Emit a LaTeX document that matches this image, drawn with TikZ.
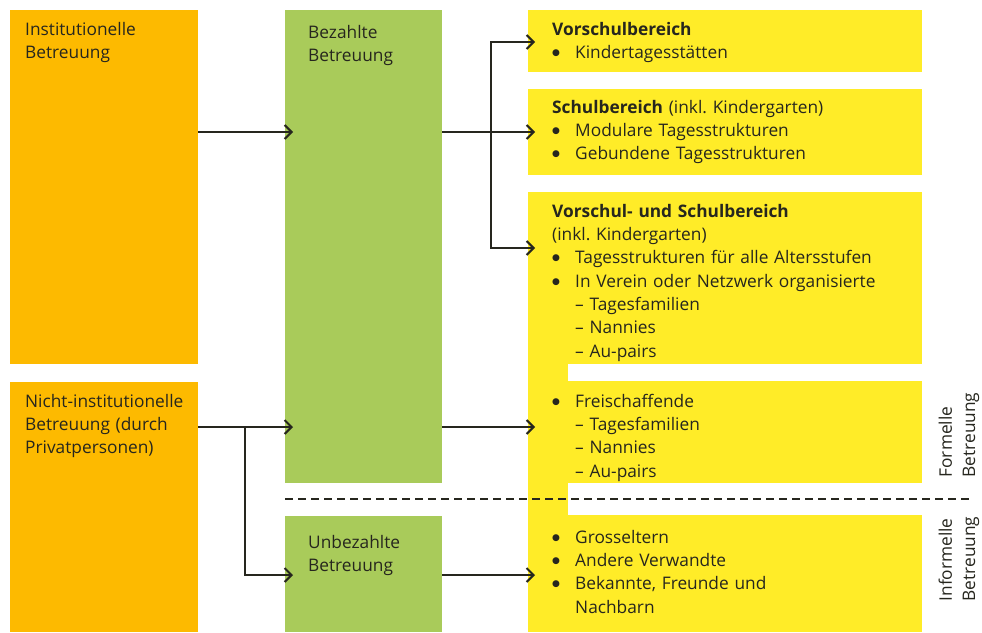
\documentclass[tikz,border=0pt]{standalone}
\usepackage{fontspec}
\setmainfont{Open Sans}
\newfontfamily\symfont{DejaVu Sans}
\usetikzlibrary{arrows.meta}
\definecolor{borange}{RGB}{253,186,0}
\definecolor{bgreen}{RGB}{169,203,90}
\definecolor{byellow}{RGB}{255,236,40}
\definecolor{ink}{RGB}{38,38,30}
\begin{document}
\frenchspacing
\begin{tikzpicture}[x=1pt,y=-1pt,
  boxbase/.style={draw=none, inner sep=0pt, outer sep=0pt, anchor=north west},
  obox/.style={boxbase, fill=borange},
  gbox/.style={boxbase, fill=bgreen},
  ybox/.style={boxbase, fill=byellow},
  txt/.style={anchor=north west, inner sep=0pt, align=left, text width=390pt,
    font=\fontsize{17.3}{23.3}\selectfont, text=ink},
  vtxt/.style={anchor=center, inner sep=0pt, align=left, rotate=90,
    font=\fontsize{17.3}{23.3}\selectfont, text=ink},
  arr/.style={draw=ink, line width=2pt,
    -{Straight Barb[length=7pt,width=14pt]}},
  sepline/.style={draw=ink, line width=2.4pt, dash pattern=on 8pt off 5pt}
]
\useasboundingbox[fill=white] (0,0) rectangle (982,632);
\newcommand{\bul}{\makebox[23pt][l]{\raisebox{3pt}{\symfont\fontsize{9}{9}\selectfont ●}}}
\newcommand{\sub}{\hspace*{23pt}– }

% orange boxes
\node[obox, minimum width=188pt, minimum height=354pt] (inst) at (10,10) {};
\node[obox, minimum width=188pt, minimum height=250pt] (nicht) at (10,382) {};
% green boxes
\node[gbox, minimum width=157pt, minimum height=473pt] (bez) at (285,10) {};
\node[gbox, minimum width=157pt, minimum height=116pt] (unbez) at (285,516) {};
% yellow boxes
\node[ybox, minimum width=40pt, minimum height=440pt] (strip) at (528,192) {};
\node[ybox, minimum width=394pt, minimum height=62pt] (y1) at (528,10) {};
\node[ybox, minimum width=394pt, minimum height=86pt] (y2) at (528,89) {};
\node[ybox, minimum width=394pt, minimum height=172pt] (y3) at (528,192) {};
\node[ybox, minimum width=394pt, minimum height=102pt] (y4) at (528,381) {};
\node[ybox, minimum width=394pt, minimum height=117pt] (y5) at (528,515) {};

% texts
\node[txt] (instT) at (25,18.7) {\strut Institutionelle\\Betreuung};
\node[txt] (nichtT) at (25,390.7) {\strut Nicht-institutionelle\\Betreuung (durch\\Privatpersonen)};
\node[txt] (bezT) at (308,21.7) {\strut Bezahlte\\Betreuung};
\node[txt] (unbezT) at (308,531.7) {\strut Unbezahlte\\Betreuung};
\node[txt] (y1T) at (552,18.7) {\strut\textbf{Vorschulbereich}\\\bul Kindertagesstätten};
\node[txt] (y2T) at (552,96.7) {\strut\textbf{Schulbereich} (inkl. Kindergarten)\\\bul Modulare Tagesstrukturen\\\bul Gebundene Tagesstrukturen};
\node[txt] (y3T) at (552,200.7) {\strut\textbf{Vorschul- und Schulbereich}\\(inkl. Kindergarten)\\\bul Tagesstrukturen für alle Altersstufen\\\bul In Verein oder Netzwerk organisierte\\\sub Tagesfamilien\\\sub Nannies\\\sub Au-pairs};
\node[txt] (y4T) at (552,390.7) {\strut\bul Freischaffende\\\sub Tagesfamilien\\\sub Nannies\\\sub Au-pairs};
\node[txt] (y5T) at (552,526.7) {\strut\bul Grosseltern\\\bul Andere Verwandte\\\bul Bekannte, Freunde und\\\hspace*{23pt}Nachbarn};
\node[vtxt] (formT) at (959,435) {Formelle\\Betreuung};
\node[vtxt] (informT) at (959,559) {Informelle\\Betreuung};

% divider
\draw[sepline] (bez.west |- 0,499) -- (972,499);

% connectors
\coordinate (trunk) at (491,132);
\coordinate (fork) at (245,427);
\draw[arr] (inst.east |- 0,132) -- ([xshift=8pt]bez.west |- 0,132);
\draw[arr] (bez.east |- 0,132) -- ([xshift=7pt]y2.west |- 0,132);
\draw[arr] (trunk) |- ([xshift=7pt]y1.west |- 0,42);
\draw[arr] (trunk) |- ([xshift=7pt]y3.west |- 0,248);
\draw[arr] (nicht.east |- 0,427) -- ([xshift=8pt]bez.west |- 0,427);
\draw[arr] (fork) |- ([xshift=8pt]unbez.west |- 0,575);
\draw[arr] (bez.east |- 0,427) -- ([xshift=7pt]y4.west |- 0,427);
\draw[arr] (unbez.east |- 0,575) -- ([xshift=7pt]y5.west |- 0,575);
\end{tikzpicture}
\end{document}
